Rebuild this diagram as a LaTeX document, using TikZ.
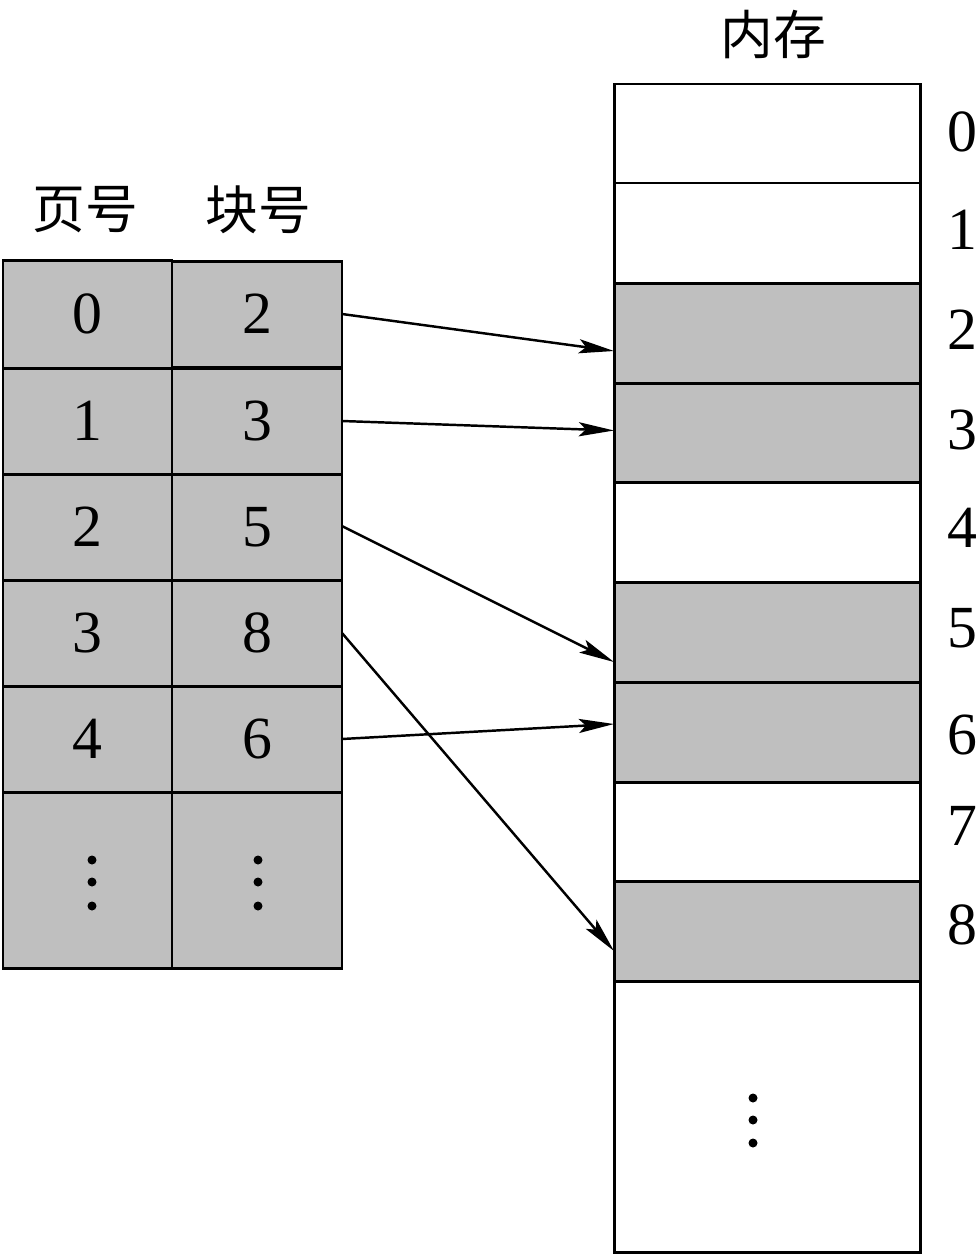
\documentclass[tikz,border=0pt]{standalone}
\usepackage{fontspec}
\setmainfont{Liberation Serif}
\newfontfamily\cjk{Noto Sans CJK SC}
\usetikzlibrary{arrows.meta}
\begin{document}
\begin{tikzpicture}[x=0.01cm,y=-0.01cm,
  cell/.style={draw,line width=0.85pt,inner sep=0,outer sep=0,font=\fontsize{17}{17}\selectfont},
  gray/.style={fill=black!25},
  lab/.style={font=\fontsize{17}{17}\selectfont,inner sep=0},
  hd/.style={font=\cjk\fontsize{15}{15}\selectfont,inner sep=0},
  arr/.style={line width=0.7pt,-{Stealth[length=10pt,width=4pt,inset=2pt]}}]
\useasboundingbox (0,0) rectangle (980,1254);
% left table
\foreach \t/\c/\n [count=\i from 0] in {260/368/0, 368/474/1, 474/580/2, 580/686/3, 686/792/4}{
  \node[cell,gray,minimum width=169*0.01cm,minimum height={(\c-\t)*0.01cm}] (p\i) at (87.5,{(\t+\c)/2}) {\i};
}
\node[cell,gray,minimum width=170*0.01cm,minimum height=106*0.01cm] (b0) at (257,314) {2};
\node[cell,gray,minimum width=170*0.01cm,minimum height=106*0.01cm] (b1) at (257,421) {3};
\node[cell,gray,minimum width=170*0.01cm,minimum height=106*0.01cm] (b2) at (257,527) {5};
\node[cell,gray,minimum width=170*0.01cm,minimum height=106*0.01cm] (b3) at (257,633) {8};
\node[cell,gray,minimum width=170*0.01cm,minimum height=106*0.01cm] (b4) at (257,739) {6};
\node[cell,gray,minimum width=169*0.01cm,minimum height=176*0.01cm] (p5) at (87.5,880) {};
\node[cell,gray,minimum width=170*0.01cm,minimum height=176*0.01cm] (b5) at (257,880) {};
\foreach \y in {860,882,906}{\fill (92,\y) circle (4.5); \fill (258,\y) circle (4.5);}
\node[hd] (h1) at (85,210) {页号};
\node[hd] (h2) at (258,210) {块号};
% memory
\node[hd] (mem) at (773,35) {内存};
\foreach \t/\c/\g [count=\i from 0] in {84/183/white,183/283/white,283/383/black!25,383/482/black!25,482/582/white,582/682/black!25,682/782/black!25,782/881/white,881/981/black!25}{
  \node[cell,fill=\g,minimum width=306*0.01cm,minimum height={(\c-\t)*0.01cm}] (m\i) at (767,{(\t+\c)/2}) {};
}
\node[cell,minimum width=306*0.01cm,minimum height=271*0.01cm] (m9) at (767,1116.5) {};
\foreach \y in {1098,1120,1143}{\fill (753,\y) circle (4.5);}
\foreach \y [count=\i from 0] in {132,230,330,430,528,628,735,826,925}{
  \node[lab] (n\i) at (962,\y) {\i};
}
% arrows
\draw[arr] (b0.east) -- ([yshift=-0.18cm]m2.west);
\draw[arr] (b1.east) -- ([yshift=0.02cm]m3.west);
\draw[arr] ([yshift=0.01cm]b2.east) -- ([yshift=-0.3cm]m5.west);
\draw[arr] (b3.east) -- ([yshift=-0.2cm]m8.west);
\draw[arr] (b4.east) -- ([yshift=0.08cm]m6.west);
\end{tikzpicture}
\end{document}
